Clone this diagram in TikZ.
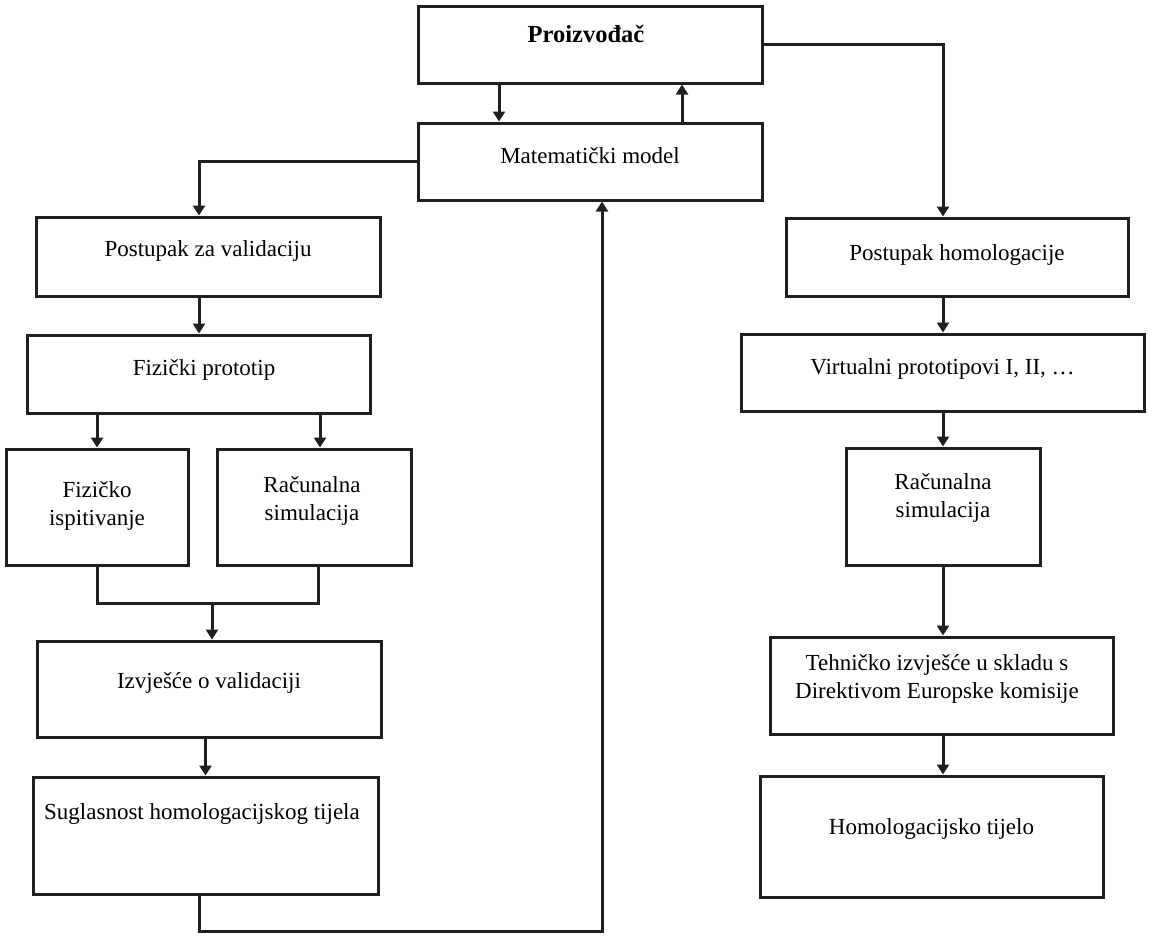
\documentclass[tikz,border=0pt]{standalone}
\usepackage{fontspec}
\setmainfont{Liberation Serif}
\usetikzlibrary{arrows.meta}
\begin{document}
\begin{tikzpicture}[x=1pt,y=-1pt,
  box/.style={draw=black!88, line width=3pt, rectangle, inner sep=0pt},
  txt/.style={font=\fontsize{23}{28}\selectfont, anchor=base, align=center, inner sep=0pt, text=black},
  arr/.style={draw=black!88, line width=3pt, -{Triangle[length=10pt,width=12pt]}},
  ln/.style={draw=black!88, line width=3pt}]
\useasboundingbox (0,0) rectangle (1152,938);
% boxes
\node[box, minimum width=344pt, minimum height=77pt] (p) at (590,44.5) {};
\node[box, minimum width=344pt, minimum height=77pt] (m) at (590,161.5) {};
\node[box, minimum width=344pt, minimum height=79pt] (v1) at (208,256.5) {};
\node[box, minimum width=343pt, minimum height=78pt] (v2) at (198.5,374) {};
\node[box, minimum width=182pt, minimum height=116pt] (v3a) at (97,507) {};
\node[box, minimum width=194pt, minimum height=116pt] (v3b) at (314,507) {};
\node[box, minimum width=344pt, minimum height=96pt] (v4) at (209,689) {};
\node[box, minimum width=345pt, minimum height=117pt] (v5) at (205.5,835.5) {};
\node[box, minimum width=342pt, minimum height=78pt] (h1) at (957,257) {};
\node[box, minimum width=403pt, minimum height=77pt] (h2) at (942.5,372.5) {};
\node[box, minimum width=194pt, minimum height=117pt] (h3) at (943,506.5) {};
\node[box, minimum width=343pt, minimum height=97pt] (h4) at (941.5,685.5) {};
\node[box, minimum width=343pt, minimum height=121pt] (h5) at (931.5,836.5) {};
% texts
\node[txt, font=\fontsize{24.5}{28}\selectfont\bfseries] (pt) at (586,42) {Proizvođač};
\node[txt] (mt) at (590,163) {Matematički model};
\node[txt] (v1t) at (208,256) {Postupak za validaciju};
\node[txt] (v2t) at (204,375) {Fizički prototip};
\node[txt] (v3at) at (97,525) {Fizičko\\ispitivanje};
\node[txt] (v3bt) at (312,520) {Računalna\\simulacija};
\node[txt] (v4t) at (209,688) {Izvješće o validaciji};
\node[txt] (v5t) at (202,819) {Suglasnost homologacijskog tijela};
\node[txt] (h1t) at (957,260) {Postupak homologacije};
\node[txt] (h2t) at (942.5,374) {Virtualni prototipovi I, II, …};
\node[txt] (h3t) at (943,517) {Računalna\\simulacija};
\node[txt] (h4t) at (937,698) {Tehničko izvješće u skladu s\\Direktivom Europske komisije};
\node[txt] (h5t) at (931.5,834) {Homologacijsko tijelo};
% helper coordinates
\coordinate (xa) at (499,0);
\coordinate (xb) at (682,0);
\coordinate (xl) at (199,0);
\coordinate (xs) at (320,0);
\coordinate (xsb) at (318,0);
\coordinate (xm) at (212,0);
\coordinate (xr) at (943,0);
\coordinate (xup) at (602,0);
\coordinate (ym) at (0,603);
\coordinate (yb) at (0,931);
% connectors
\draw[arr] (p.south -| xa) -- (m.north -| xa);
\draw[arr] (m.north -| xb) -- (p.south -| xb);
\draw[arr] (m.west) -| (v1.north -| xl);
\draw[arr] (v1.south -| xl) -- (v2.north -| xl);
\draw[arr] (v2.south -| v3a.north) -- (v3a.north);
\draw[arr] (v2.south -| xs) -- (v3b.north -| xs);
\draw[ln] (v3a.south) -- (ym -| v3a.south) -- (ym -| xsb) -- (v3b.south -| xsb);
\draw[arr] (ym -| xm) -- (v4.north -| xm);
\draw[arr] (v4.south -| v5.north) -- (v5.north);
\draw[arr] (v5.south -| xl) -- (yb -| xl) -- (yb -| xup) -- (m.south -| xup);
\draw[arr] (p.east) -| (h1.north -| xr);
\draw[arr] (h1.south -| xr) -- (h2.north -| xr);
\draw[arr] (h2.south -| xr) -- (h3.north -| xr);
\draw[arr] (h3.south -| xr) -- (h4.north -| xr);
\draw[arr] (h4.south -| xr) -- (h5.north -| xr);
\end{tikzpicture}
\end{document}
